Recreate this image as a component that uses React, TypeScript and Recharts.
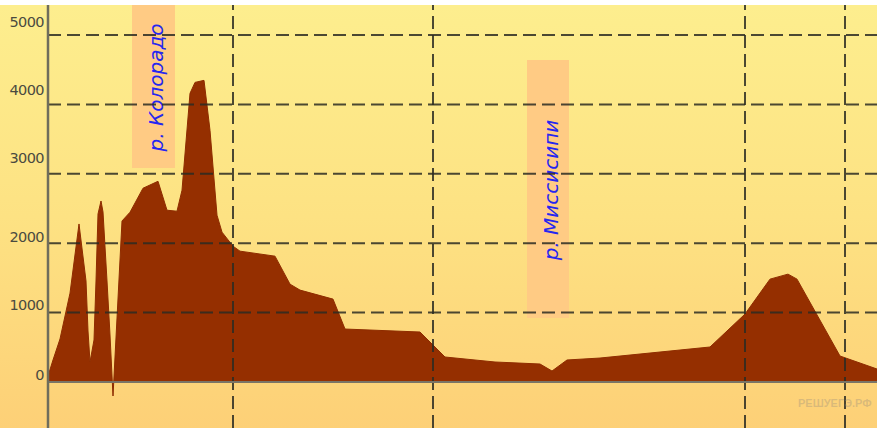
import React from 'react';
import { AreaChart, Area, XAxis, YAxis, ReferenceLine, ReferenceArea } from 'recharts';

// distance along profile (arbitrary km-like units) and elevation (m)
const distanceKm = [0, 5, 12, 22, 31, 38, 40, 42, 46, 48, 50, 53, 55, 59, 62, 65, 74, 82, 95, 110, 119, 129, 134, 142, 147, 156, 162, 169, 174, 185, 192, 227, 242, 252, 285, 297, 372, 397, 447, 492, 504, 519, 552, 662, 697, 722, 740, 749, 792, 829];
const elevationM = [86, 317, 620, 1280, 2277, 1455, 735, 288, 605, 1455, 2421, 2608, 2450, 1455, 677, -202, 2320, 2446, 2792, 2892, 2475, 2461, 2763, 4159, 4317, 4346, 3626, 2403, 2159, 1957, 1885, 1813, 1410, 1324, 1194, 763, 720, 360, 288, 259, 158, 317, 345, 504, 979, 1482, 1554, 1482, 374, 187];
const yTicks = [0, 1000, 2000, 3000, 4000, 5000];
const gridY = [1000, 2000, 3000, 4000, 5000];
const meridianX = [185, 385, 697, 797];
const riverNames = ['р. Колорадо', 'р. Миссисипи'];
const watermark = 'РЕШУЕГЭ.РФ';

const data = distanceKm.map((d, i) => ({ d, h: elevationM[i] }));

const tickDy: Record<number, number> = { 5000: -13, 4000: -14, 3000: -16, 2000: -6, 1000: -8, 0: -7 };

const YTick = (props: any) => {
  const { y, payload } = props;
  const v = payload.value as number;
  return (
    <text
      x={44}
      y={y + (tickDy[v] ?? -8)}
      textAnchor="end"
      dominantBaseline="central"
      fontSize={14.5}
      fontFamily="'DejaVu Sans', Verdana, sans-serif"
      fill="#4a4a40"
      letterSpacing={-0.6}
    >
      {v}
    </text>
  );
};

const makeRiverLabel = (text: string) => (props: any) => {
  const vb = props.viewBox || {};
  const cx = vb.x + vb.width / 2 + 3;
  const cy = vb.y + vb.height / 2 + 1;
  return (
    <text
      x={cx}
      y={cy}
      transform={`rotate(-90, ${cx}, ${cy})`}
      textAnchor="middle"
      dominantBaseline="central"
      fontSize={20}
      fontStyle="italic"
      fontFamily="'DejaVu Sans', Verdana, sans-serif"
      fill="#2626f0"
    >
      {text}
    </text>
  );
};

const gridStroke = '#2b2b22';

export default function App() {
  return (
    <div style={{ position: 'absolute', left: 0, top: 0, width: 877, height: 428, background: '#ffffff' }}>
      <div
        style={{
          position: 'absolute',
          left: 0,
          top: 5,
          width: 877,
          height: 423,
          background: 'linear-gradient(to bottom, #fdee8e 0%, #fde283 50%, #fdd077 100%)',
        }}
      />
      <div style={{ position: 'absolute', left: 0, top: 0 }}>
        <AreaChart width={877} height={428} data={data} margin={{ top: 5, right: 0, bottom: 0, left: 0 }}>
          <XAxis dataKey="d" type="number" domain={[0, 829]} hide allowDataOverflow />
          <YAxis
            type="number"
            domain={[-663, 5432]}
            allowDataOverflow
            ticks={yTicks}
            width={48}
            tickLine={false}
            axisLine={{ stroke: '#6f6d5c', strokeWidth: 2.5 }}
            tick={<YTick />}
            interval={0}
          />
          <Area
            type="linear"
            dataKey="h"
            stroke="#8e2c00"
            strokeWidth={1}
            fill="#952f00"
            fillOpacity={1}
            isAnimationActive={false}
          />
          {gridY.map((v) => (
            <ReferenceLine key={'h' + v} y={v} stroke={gridStroke} strokeWidth={2} strokeDasharray="13 6" strokeOpacity={0.85} />
          ))}
          {meridianX.map((v) => (
            <ReferenceLine key={'v' + v} x={v} stroke={gridStroke} strokeWidth={2} strokeDasharray="13 6" strokeOpacity={0.85} />
          ))}
          <ReferenceLine y={0} stroke="#7a7466" strokeWidth={2} />
          <ReferenceArea x1={84} x2={127} y1={3084} y2={5432} fill="#ffcb84" fillOpacity={1} stroke="none" label={makeRiverLabel(riverNames[0])} />
          <ReferenceArea x1={479} x2={521} y1={922} y2={4640} fill="#ffcb84" fillOpacity={1} stroke="none" label={makeRiverLabel(riverNames[1])} />
        </AreaChart>
      </div>
      <div
        style={{
          position: 'absolute',
          left: 798,
          top: 397,
          fontFamily: "'Liberation Sans', Arial, sans-serif",
          fontWeight: 'bold',
          fontSize: 11,
          color: 'rgba(150,140,125,0.35)',
          whiteSpace: 'nowrap',
        }}
      >
        {watermark}
      </div>
    </div>
  );
}
